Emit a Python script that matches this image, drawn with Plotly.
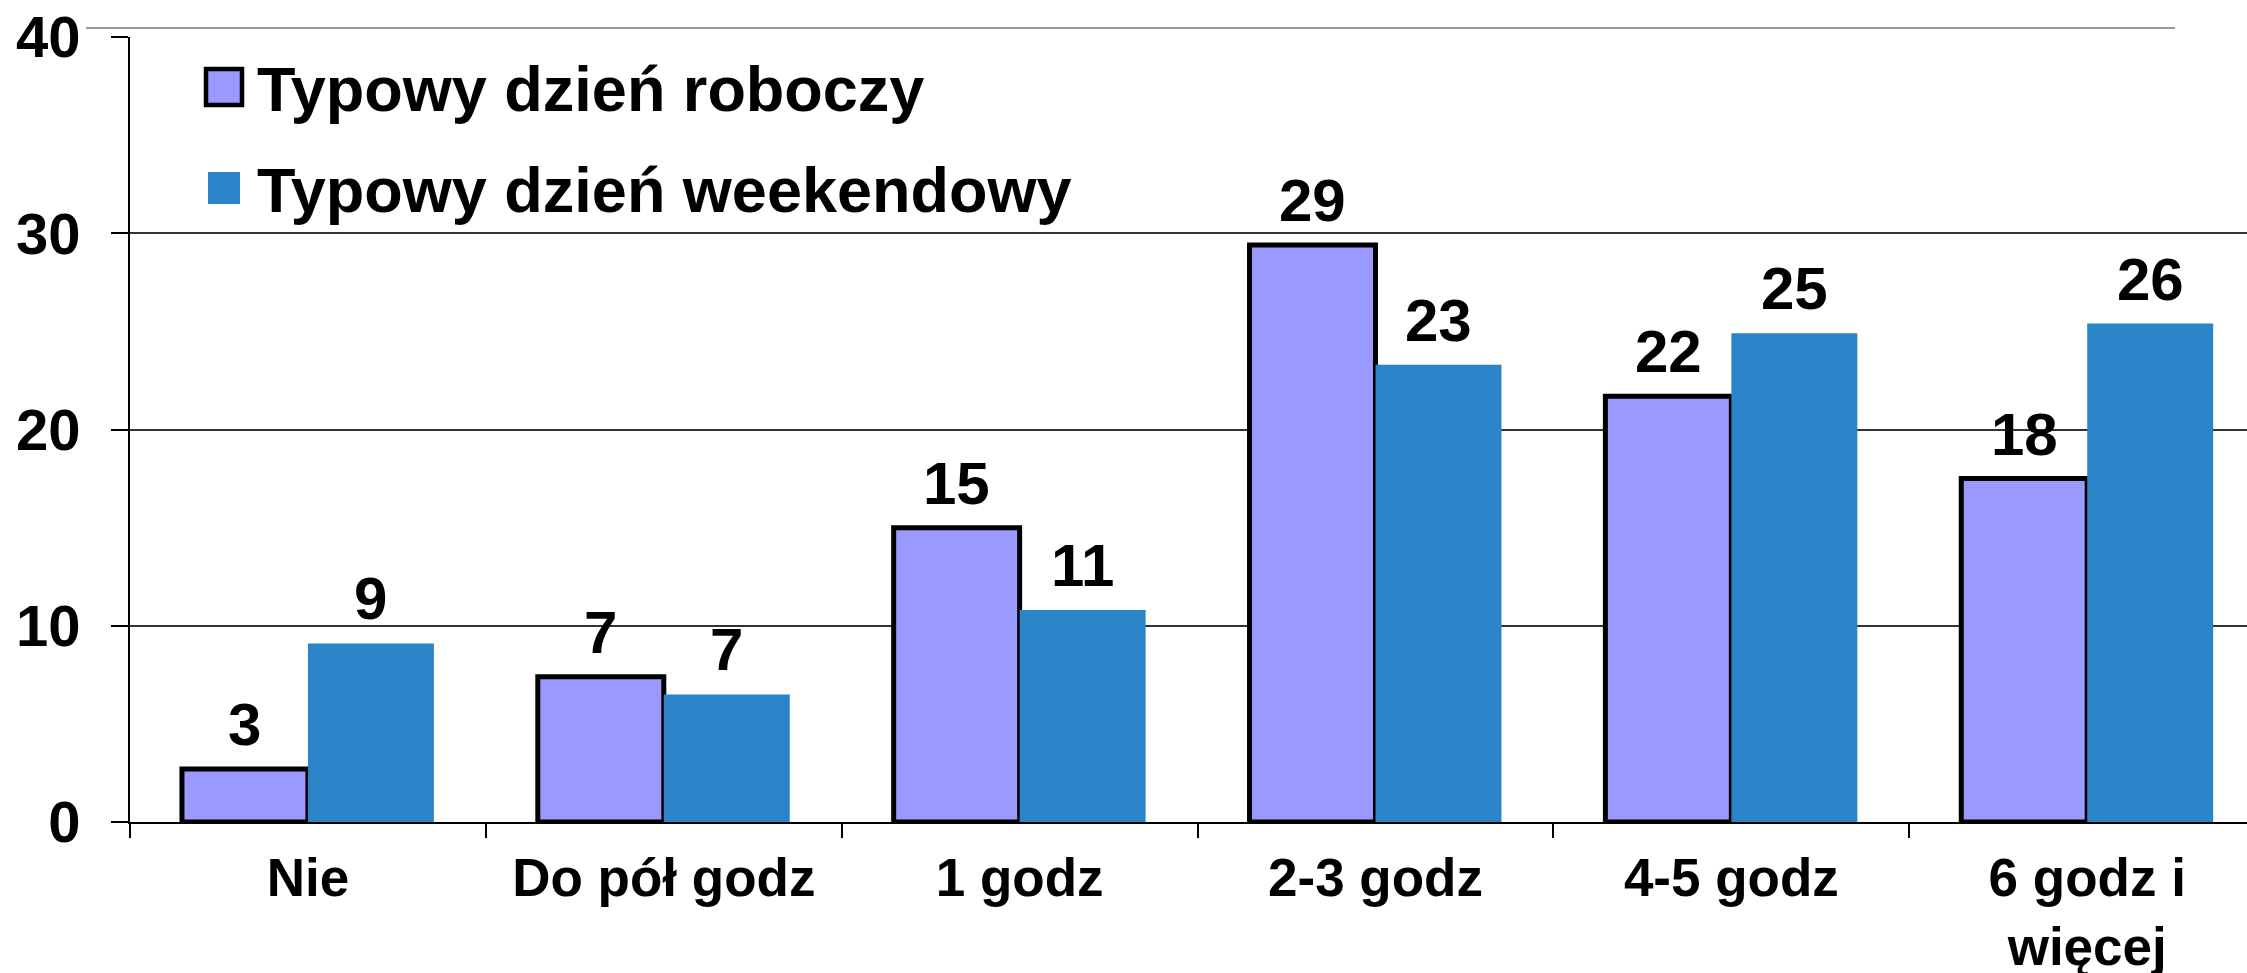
import plotly.graph_objects as go

categories = ["Nie", "Do pół godz", "1 godz", "2-3 godz", "4-5 godz", "6 godz i<br>więcej"]
series_names = ["Typowy dzień roboczy", "Typowy dzień weekendowy"]
roboczy = [2.7, 7.4, 15.0, 29.4, 21.7, 17.5]
weekendowy = [9.1, 6.5, 10.8, 23.3, 24.9, 25.4]
roboczy_labels = ["3", "7", "15", "29", "22", "18"]
weekendowy_labels = ["9", "7", "11", "23", "25", "26"]
y_ticks = [0, 10, 20, 30, 40]

W, H = 2247, 973
ML, MR, MT, MB = 130, 0, 37, 151
PW, PH = W - ML - MR, H - MT - MB

def pxx(x):
    return (x - ML) / PW

def pxy(y):
    return (H - MB - y) / PH

FONT = "Liberation Sans, Arial, sans-serif"
LAV = "#9999FF"
BLUE = "#2A84C7"

fig = go.Figure()
fig.add_bar(x=categories, y=roboczy, name=series_names[0],
            marker=dict(color=LAV, line=dict(color="black", width=5)),
            showlegend=False)
fig.add_bar(x=categories, y=weekendowy, name=series_names[1],
            marker=dict(color=BLUE, line=dict(color=BLUE, width=0)),
            showlegend=False)

annotations = []
for c, v, t in zip(categories, roboczy, roboczy_labels):
    annotations.append(dict(x=c, y=v, xref="x", yref="y", text=t, showarrow=False,
                            xshift=-63, yshift=9, yanchor="bottom",
                            font=dict(family=FONT, size=60, color="black", weight="bold")))
for c, v, t in zip(categories, weekendowy, weekendowy_labels):
    annotations.append(dict(x=c, y=v, xref="x", yref="y", text=t, showarrow=False,
                            xshift=63, yshift=9, yanchor="bottom",
                            font=dict(family=FONT, size=60, color="black", weight="bold")))

# legend (manual, large)
legend_rows = [(87, LAV, True), (188, BLUE, False)]
shapes = []
for (cy, col, border), name in zip(legend_rows, series_names):
    s = 18 if border else 16
    shapes.append(dict(type="rect", xref="paper", yref="paper",
                       x0=pxx(224 - s), x1=pxx(224 + s), y0=pxy(cy + s), y1=pxy(cy - s),
                       fillcolor=col,
                       line=dict(color="black" if border else col, width=4.5 if border else 0)))
    annotations.append(dict(x=pxx(255), y=pxy(cy + 2), xref="paper", yref="paper", text=name,
                            showarrow=False, xanchor="left", yanchor="middle",
                            font=dict(family=FONT, size=63, color="black", weight="bold")))

# top light border line
shapes.append(dict(type="line", xref="paper", yref="paper",
                   x0=pxx(86), x1=pxx(2175), y0=pxy(28), y1=pxy(28),
                   line=dict(color="#9a9a9a", width=2)))

fig.update_layout(
    width=W, height=H,
    margin=dict(l=ML, r=MR, t=MT, b=MB, pad=0),
    paper_bgcolor="white", plot_bgcolor="white",
    barmode="group", bargap=0.292, bargroupgap=0,
    annotations=annotations, shapes=shapes,
    showlegend=False,
)
fig.update_xaxes(type="category", range=[-0.5, 5.449], tickson="boundaries",
                 ticks="outside", ticklen=14, tickwidth=2, tickcolor="black",
                 showline=True, linecolor="black", linewidth=2, showgrid=False,
                 tickfont=dict(family=FONT, size=53, color="black", weight="bold"),
                 ticklabelstandoff=8, automargin=False)
fig.update_yaxes(range=[0, 40], tickvals=y_ticks, ticks="outside", ticklen=17, tickwidth=2,
                 tickcolor="black", showline=True, linecolor="black", linewidth=2,
                 showgrid=True, gridcolor="#333333", gridwidth=2, zeroline=False,
                 tickfont=dict(family=FONT, size=58, color="black", weight="bold"),
                 ticklabelstandoff=19, automargin=False)

fig.write_html("out.html", config={"displayModeBar": False},
               post_script="document.body.style.margin='0';")
